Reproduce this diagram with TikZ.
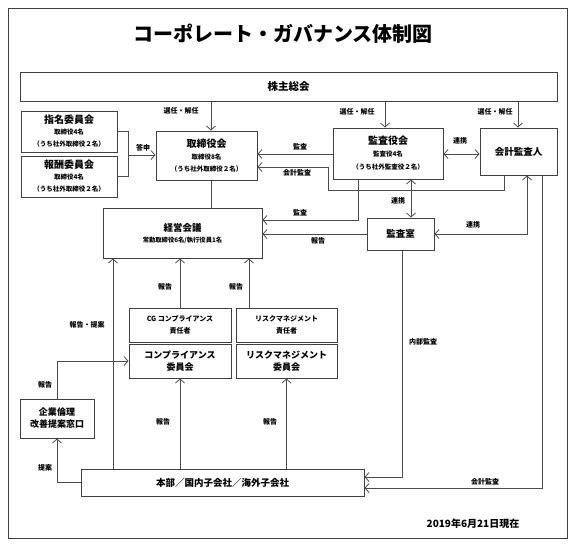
\documentclass[tikz,border=0pt]{standalone}
\usepackage{fontspec}
\setmainfont{Noto Sans CJK JP}
\usetikzlibrary{arrows.meta}
\newcommand{\fs}[2]{\fontsize{#1}{#2}\selectfont}
\begin{document}
\begin{tikzpicture}[x=1pt,y=-1pt,
  box/.style={draw=black!75, line width=1pt, inner sep=0pt, align=center, font=\bfseries},
  lbl/.style={inner sep=0pt, font=\fs{7}{8}\bfseries},
  ln/.style={draw=black!70, line width=0.8pt},
  arr/.style={ln, -{Straight Barb[length=4pt,width=9pt]}},
  darr/.style={ln, {Straight Barb[length=4pt,width=9pt]}-{Straight Barb[length=4pt,width=9pt]}}]
\useasboundingbox (0,0) rectangle (580,544);
\fill[white] (0,0) rectangle (580,544);
\draw[draw=black!75, line width=1pt] (8,8) rectangle (567,538);

\node[font=\fs{20}{24}\bfseries, inner sep=0pt] (title) at (283,34) {コーポレート・ガバナンス体制図};

% boxes
\node[box, minimum width=537, minimum height=29] (sh) at (288.5,86.5) {\fs{10.5}{12}株主総会};
\node[box, minimum width=96, minimum height=41] (nm) at (69,131.5)
  {\fs{10}{12}指名委員会\\[-1pt]\fs{6.5}{9}取締役4名\\\fs{6.5}{9}（うち社外取締役２名）};
\node[box, minimum width=96, minimum height=41] (hs) at (69,176.5)
  {\fs{10}{12}報酬委員会\\[-1pt]\fs{6.5}{9}取締役4名\\\fs{6.5}{9}（うち社外取締役２名）};
\node[box, minimum width=101, minimum height=49] (tr) at (206.5,155.5)
  {\fs{10}{12}取締役会\\[0pt]\fs{6.5}{9}取締役8名\\\fs{6.5}{9}（うち社外取締役２名）};
\node[box, minimum width=110, minimum height=51] (ka) at (388,153.5)
  {\fs{10}{12}監査役会\\[0pt]\fs{6.5}{9}監査役4名\\[1pt]\fs{6.5}{9}（うち社外監査役２名）};
\node[box, minimum width=77, minimum height=47] (kk) at (518.5,151.5) {\fs{9.5}{12}会計監査人};
\node[box, minimum width=159, minimum height=50] (kg) at (182.5,233)
  {\fs{9.5}{12}経営会議\\[-1pt]\fs{6.3}{8}常勤取締役6名/執行役員1名};
\node[box, minimum width=67, minimum height=32] (ks) at (400.5,234) {\fs{9.5}{12}監査室};
\node[box, minimum width=102, minimum height=34, font=\mdseries] (cg) at (180,325)
  {\fs{7}{11}\bfseries CG コンプライアンス\\\fs{7}{11}\bfseries 責任者};
\node[box, minimum width=102, minimum height=34] (cc) at (180,361)
  {\fs{9}{12}コンプライアンス\\\fs{9}{12}委員会};
\node[box, minimum width=101, minimum height=34] (rm) at (286.5,325)
  {\fs{7}{11}リスクマネジメント\\\fs{7}{11}責任者};
\node[box, minimum width=101, minimum height=34] (rc) at (286.5,361)
  {\fs{9}{12}リスクマネジメント\\\fs{9}{12}委員会};
\node[box, minimum width=74, minimum height=39] (rk) at (57,418.5)
  {\fs{9}{12}企業倫理\\\fs{9}{12}改善提案窓口};
\node[box, minimum width=283, minimum height=27] (hb) at (222.5,482.5) {\fs{9.5}{12}本部／国内子会社／海外子会社};
\node[inner sep=0pt, font=\fs{10}{12}\bfseries] (date) at (473,524) {2019年6月21日現在};

% guide coordinates
\coordinate (xA) at (211,0);
\coordinate (xB) at (385,0);
\coordinate (xC) at (518,0);
\coordinate (xD) at (411,0);
\coordinate (xE) at (113,0);
\coordinate (xF) at (249,0);
\coordinate (yK) at (0,154);
\coordinate (brT) at (128,131.5);
\coordinate (brB) at (128,176.5);
\coordinate (brM) at (128,155);
\coordinate (c1) at (504,190);
\coordinate (c2) at (328,167);
\coordinate (c3) at (358,220);
\coordinate (c4) at (527,234);
\coordinate (c5) at (542,488);
\coordinate (c6) at (402,477);

% connectors
\draw[arr] (sh.south -| xA) -- (tr.north -| xA);
\draw[arr] (sh.south -| xB) -- (ka.north -| xB);
\draw[arr] (sh.south -| xC) -- (kk.north -| xC);
\draw[ln] (nm.east) -- (brT) -- (brB) -- (hs.east);
\draw[arr] (brM) -- (tr.west |- brM);
\draw[arr] (ka.west |- yK) -- (tr.east |- yK);
\draw[arr] (kk.south -| c1) -- (c1) -| (c2) -- (tr.east |- c2);
\draw[darr] (ka.east |- yK) -- (kk.west |- yK);
\draw[ln] (tr.south -| xA) -- (kg.north -| xA);
\draw[arr] (ka.south -| c3) -- (c3) -- (kg.east |- c3);
\draw[arr] (ks.west) -- (kg.east |- ks.west);
\draw[darr] (ka.south -| xD) -- (ks.north -| xD);
\draw[darr] (kk.south -| c4) -- (c4) -- (ks.east |- c4);
\draw[arr] (kk.south -| c5) -- (c5) -- (hb.east |- c5);
\draw[arr] (ks.south -| c6) -- (c6) -- (hb.east |- c6);
\draw[arr] (hb.north -| xE) -- (kg.south -| xE);
\draw[arr] (hb.north -| cc.south) -- (cc.south);
\draw[arr] (hb.north -| rc.south) -- (rc.south);
\draw[arr] (cg.north) -- (kg.south -| cg.north);
\draw[arr] (rm.north -| xF) -- (kg.south -| xF);
\draw[arr] (hb.west) -- (hb.west -| rk.south) -- (rk.south);
\draw[arr] (rk.north) |- (cc.west);

% labels
\node[lbl] at (181,111) {選任・解任};
\node[lbl] at (357,112) {選任・解任};
\node[lbl] at (495,112) {選任・解任};
\node[lbl] at (143,148) {答申};
\node[lbl] at (300,147) {監査};
\node[lbl] at (297,173) {会計監査};
\node[lbl] at (460,141) {連携};
\node[lbl] at (398,201) {連携};
\node[lbl] at (300,213) {監査};
\node[lbl] at (318,241) {報告};
\node[lbl] at (473,225) {連携};
\node[lbl] at (423,342) {内部監査};
\node[lbl] at (485,482) {会計監査};
\node[lbl] at (87,325) {報告・提案};
\node[lbl] at (165,287) {報告};
\node[lbl] at (236,287) {報告};
\node[lbl] at (163,422) {報告};
\node[lbl] at (270,422) {報告};
\node[lbl] at (45,385) {報告};
\node[lbl] at (45,468) {提案};
\end{tikzpicture}
\end{document}
